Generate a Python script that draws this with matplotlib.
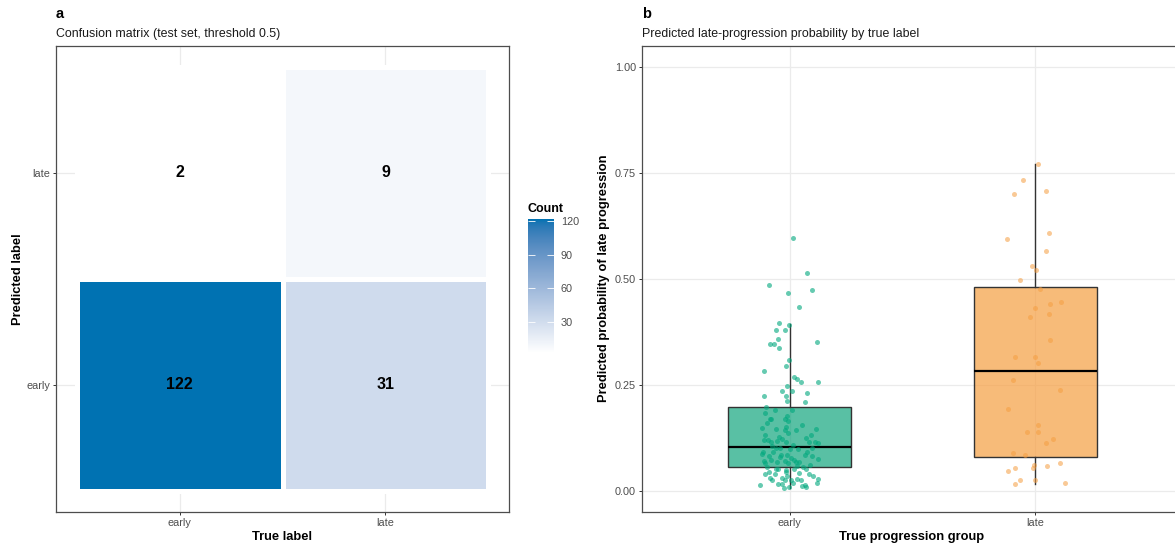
import numpy as np
import matplotlib
matplotlib.use("Agg")
import matplotlib.pyplot as plt
from matplotlib.colors import ListedColormap, Normalize, to_rgb, to_rgba

plt.rcParams['font.family'] = ['Liberation Sans', 'DejaVu Sans']

# ---------------- data ----------------
true_labels = ['early', 'late']
pred_labels = ['early', 'late']
# rows = predicted (early, late), cols = true (early, late)
counts_pred_early = [122, 31]
counts_pred_late = [2, 9]

groups = ['early', 'late']
box_q1 = [0.056, 0.078]
box_med = [0.103, 0.281]
box_q3 = [0.196, 0.481]
whisk_lo = [0.005, 0.015]
whisk_hi = [0.394, 0.771]

early_jitter = [0.015, 0.070, -0.085, -0.008, 0.093, 0.039, -0.041, -0.003, -0.056, -0.019,
                -0.047, -0.080, -0.062, -0.042, 0.111, -0.003, -0.015, -0.103, 0.020, 0.031,
                0.045, 0.115, -0.009, -0.030, 0.009, 0.073, -0.103, -0.015, -0.012, 0.062,
                -0.096, -0.100, -0.075, -0.080, -0.009, -0.019, -0.008, -0.014, -0.112, -0.054,
                -0.019, 0.028, 0.108, -0.005, 0.087, -0.099, -0.088, -0.042, -0.102, -0.075,
                -0.049, -0.014, 0.081, 0.104, 0.114, -0.057, -0.038, 0.001, 0.034, -0.108,
                -0.068, -0.033, -0.114, 0.093, 0.062, -0.009, -0.083, 0.115, -0.104, -0.076,
                -0.049, -0.020, 0.019, 0.038, -0.005, 0.027, -0.100, 0.056, -0.056, -0.046,
                -0.016, 0.020, 0.083, 0.066, -0.083, -0.014, 0.038, -0.060, 0.081, -0.081,
                -0.031, 0.030, 0.114, -0.073, 0.004, -0.020, 0.046, -0.046, -0.030, 0.111,
                -0.119, 0.061, 0.068, -0.004, -0.024, 0.014, -0.060, 0.010, -0.090, 0.050,
                -0.030, 0.065, -0.070, 0.015, 0.090, -0.040, 0.005, 0.070, -0.090, 0.030,
                -0.010, 0.095, -0.100, 0.050]
early_prob = [0.596, 0.514, 0.486, 0.467, 0.473, 0.434, 0.395, 0.391, 0.380, 0.378,
              0.358, 0.345, 0.346, 0.337, 0.351, 0.308, 0.294, 0.283, 0.267, 0.263,
              0.256, 0.256, 0.247, 0.235, 0.234, 0.230, 0.224, 0.224, 0.211, 0.209,
              0.198, 0.184, 0.169, 0.169, 0.177, 0.169, 0.163, 0.150, 0.147, 0.146,
              0.142, 0.144, 0.146, 0.136, 0.130, 0.131, 0.120, 0.126, 0.119, 0.114,
              0.117, 0.114, 0.115, 0.115, 0.111, 0.100, 0.101, 0.098, 0.097, 0.092,
              0.091, 0.085, 0.086, 0.082, 0.083, 0.084, 0.081, 0.074, 0.070, 0.073,
              0.068, 0.069, 0.071, 0.068, 0.064, 0.068, 0.064, 0.056, 0.051, 0.051,
              0.049, 0.051, 0.060, 0.051, 0.043, 0.043, 0.042, 0.038, 0.040, 0.030,
              0.030, 0.027, 0.027, 0.026, 0.024, 0.024, 0.026, 0.016, 0.016, 0.017,
              0.013, 0.013, 0.008, 0.008, 0.005, 0.018, 0.190, 0.190, 0.160, 0.155,
              0.122, 0.125, 0.105, 0.108, 0.100, 0.078, 0.076, 0.090, 0.055, 0.058,
              0.035, 0.035, 0.040, 0.010]

late_jitter = [0.012, -0.051, 0.041, -0.088, 0.057, -0.115, 0.042, -0.016, 0.004, -0.064,
               0.020, 0.102, 0.060, -0.003, 0.057, -0.022, 0.058, -0.083, -0.003, 0.011,
               -0.092, 0.100, -0.110, 0.009, -0.034, 0.009, 0.073, 0.043, -0.093, -0.043,
               -0.004, 0.046, 0.099, -0.012, -0.084, -0.111, -0.064, -0.003, -0.083, 0.119]
late_prob = [0.771, 0.732, 0.707, 0.700, 0.609, 0.594, 0.565, 0.529, 0.520, 0.497,
             0.476, 0.445, 0.441, 0.432, 0.416, 0.409, 0.356, 0.314, 0.316, 0.301,
             0.260, 0.238, 0.192, 0.154, 0.139, 0.139, 0.121, 0.112, 0.089, 0.083,
             0.060, 0.059, 0.065, 0.053, 0.054, 0.047, 0.025, 0.024, 0.015, 0.018]

y_ticks_b = [0.0, 0.25, 0.5, 0.75, 1.0]
cbar_ticks = [30, 60, 90, 120]

# ---------------- helpers ----------------
W, H = 1175, 544
def fx(px):
    return px / W
def fy(py):
    return 1 - py / H

def srgb_to_lab(rgb):
    rgb = np.asarray(rgb, float)
    c = np.where(rgb <= 0.04045, rgb / 12.92, ((rgb + 0.055) / 1.055) ** 2.4)
    M = np.array([[0.4124, 0.3576, 0.1805], [0.2126, 0.7152, 0.0722], [0.0193, 0.1192, 0.9505]])
    xyz = M @ c / np.array([0.95047, 1.0, 1.08883])
    f = np.where(xyz > 0.008856, np.cbrt(xyz), 7.787 * xyz + 16 / 116)
    return np.array([116 * f[1] - 16, 500 * (f[0] - f[1]), 200 * (f[1] - f[2])])

def lab_to_srgb(lab):
    L, a, b = lab
    fyv = (L + 16) / 116
    fxv = fyv + a / 500
    fzv = fyv - b / 200
    f = np.array([fxv, fyv, fzv])
    xyz = np.where(f ** 3 > 0.008856, f ** 3, (f - 16 / 116) / 7.787) * np.array([0.95047, 1.0, 1.08883])
    Minv = np.array([[3.2406, -1.5372, -0.4986], [-0.9689, 1.8758, 0.0415], [0.0557, -0.2040, 1.0570]])
    c = Minv @ xyz
    c = np.clip(c, 0, 1)
    s = np.where(c <= 0.0031308, 12.92 * c, 1.055 * c ** (1 / 2.4) - 0.055)
    return np.clip(s, 0, 1)

lab_lo = srgb_to_lab(to_rgb('#FFFFFF'))
lab_hi = srgb_to_lab(to_rgb('#0072B2'))
cmap = ListedColormap([lab_to_srgb(lab_lo + t * (lab_hi - lab_lo)) for t in np.linspace(0, 1, 256)])

all_counts = counts_pred_early + counts_pred_late
norm = Normalize(vmin=min(all_counts), vmax=max(all_counts))

tick_col = '#4D4D4D'
frame_col = '#4D4D4D'
grid_col = '#EBEBEB'

fig = plt.figure(figsize=(W / 100, H / 100), dpi=100)
fig.patch.set_facecolor('white')

# ---------------- panel a ----------------
axa = fig.add_axes([fx(56), fy(511.7), fx(509) - fx(56), fy(45.7) - fy(511.7)])
axa.set_xlim(0.4, 2.6)
axa.set_ylim(0.4, 2.6)
for v in [1, 2]:
    axa.axvline(v, color=grid_col, lw=0.9, zorder=0)
    axa.axhline(v, color=grid_col, lw=0.9, zorder=0)
Z = np.array([counts_pred_early, counts_pred_late], float)
xe = np.arange(len(true_labels) + 1) + 0.5
ye = np.arange(len(pred_labels) + 1) + 0.5
mesh = axa.pcolormesh(xe, ye, Z, cmap=cmap, norm=norm, edgecolors='white', linewidth=2.2, zorder=1)
for i, row in enumerate([counts_pred_early, counts_pred_late]):
    for j, v in enumerate(row):
        axa.text(j + 1, i + 1, str(v), ha='center', va='center', fontsize=11.5,
                 fontweight='bold', color='black', zorder=3)
axa.set_xticks([1, 2])
axa.set_xticklabels(true_labels)
axa.set_yticks([1, 2])
axa.set_yticklabels(pred_labels)
axa.tick_params(axis='both', length=2.3, width=0.7, color='#333333', labelsize=7.8,
                labelcolor=tick_col, pad=2)
for s in axa.spines.values():
    s.set_color(frame_col)
    s.set_linewidth(0.9)

# colorbar
cax = fig.add_axes([fx(528), fy(353), fx(554) - fx(528), fy(219) - fy(353)])
cb = fig.colorbar(mesh, cax=cax, ticks=cbar_ticks)
cb.outline.set_visible(False)
cax.tick_params(which='both', direction='in', length=5, width=0.6, color='white',
                left=True, right=True, labelleft=False, labelright=True,
                labelsize=7.8, labelcolor=tick_col, pad=5)
cax.yaxis.set_ticks_position('both')
fig.text(fx(528), fy(209), 'Count', ha='left', va='center', fontsize=9, fontweight='bold')

fig.text(fx(56), fy(13.5), 'a', ha='left', va='center', fontsize=10.5, fontweight='bold')
fig.text(fx(56), fy(33.5), 'Confusion matrix (test set, threshold 0.5)', ha='left', va='center',
         fontsize=8.9, color='#1A1A1A')
fig.text(fx(282.5), fy(537), 'True label', ha='center', va='center', fontsize=9.3, fontweight='bold')
fig.text(fx(18), fy(278.7), 'Predicted label', ha='center', va='center', rotation=90,
         fontsize=9.3, fontweight='bold')

# ---------------- panel b ----------------
axb = fig.add_axes([fx(642), fy(511.7), 541 / W, fy(45.7) - fy(511.7)])
axb.set_xlim(0.4, 2.6)
axb.set_ylim(-0.05, 1.05)
for v in y_ticks_b:
    axb.axhline(v, color=grid_col, lw=0.9, zorder=0)
for v in [1, 2]:
    axb.axvline(v, color=grid_col, lw=0.9, zorder=0)

box_cols = ['#009E73', '#F59E41']
pt_cols = ['#00A87D', '#F59E41']
stats = []
for k in range(len(groups)):
    stats.append(dict(med=box_med[k], q1=box_q1[k], q3=box_q3[k],
                      whislo=whisk_lo[k], whishi=whisk_hi[k], fliers=[]))
bp = axb.bxp(stats, positions=[1, 2], widths=0.5, patch_artist=True, showfliers=False,
             showcaps=False,
             boxprops=dict(edgecolor='#333333', linewidth=1.0),
             medianprops=dict(color='black', linewidth=1.6),
             whiskerprops=dict(color='#333333', linewidth=1.0), zorder=2)
for patch, c, a in zip(bp['boxes'], box_cols, [0.65, 0.7]):
    patch.set_facecolor(to_rgba(c, a))

axb.scatter(1 + np.array(early_jitter), early_prob, s=13, color=pt_cols[0], alpha=0.6,
            linewidths=0, zorder=3)
axb.scatter(2 + np.array(late_jitter), late_prob, s=13, color=pt_cols[1], alpha=0.55,
            linewidths=0, zorder=3)

axb.set_xticks([1, 2])
axb.set_xticklabels(groups)
axb.set_yticks(y_ticks_b)
axb.set_yticklabels(['%.2f' % v for v in y_ticks_b])
axb.tick_params(axis='both', length=2.3, width=0.7, color='#333333', labelsize=7.8,
                labelcolor=tick_col, pad=2)
for s in axb.spines.values():
    s.set_color(frame_col)
    s.set_linewidth(0.9)

fig.text(fx(642), fy(13.5), 'b', ha='left', va='center', fontsize=10.5, fontweight='bold')
fig.text(fx(642), fy(33.5), 'Predicted late-progression probability by true label', ha='left',
         va='center', fontsize=8.9, color='#1A1A1A')
fig.text(fx(912), fy(537), 'True progression group', ha='center', va='center', fontsize=9.3,
         fontweight='bold')
fig.text(fx(604), fy(278.7), 'Predicted probability of late progression', ha='center',
         va='center', rotation=90, fontsize=9.3, fontweight='bold')

fig.savefig('out.png', dpi=100, facecolor='white')
